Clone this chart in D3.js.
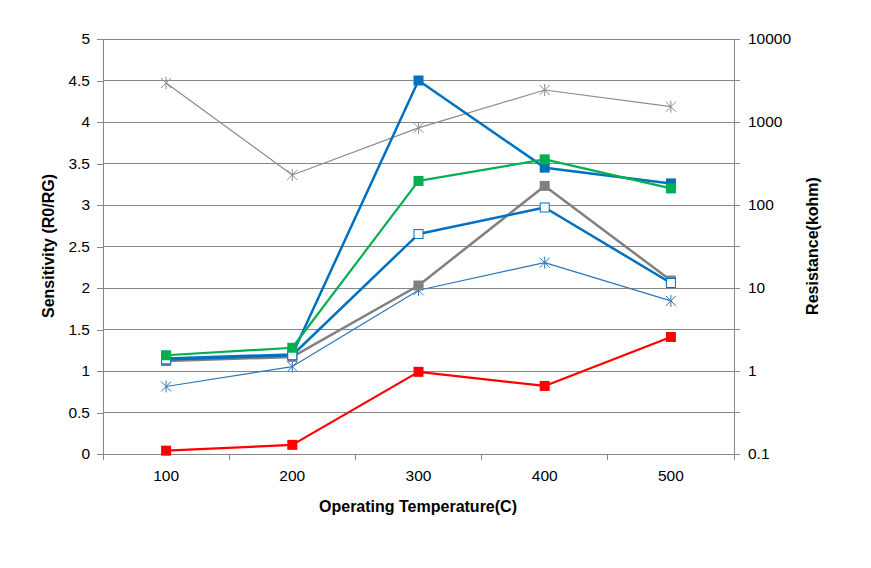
<!DOCTYPE html>
<html><head><meta charset="utf-8">
<script src="https://cdn.jsdelivr.net/npm/d3@7"></script>
<style>body{margin:0;background:#fff}svg{display:block}text{font-family:"Liberation Sans",Arial,sans-serif;fill:#000}</style>
</head><body><svg id="c" width="871" height="568"></svg>
<script>
const categories = ["100","200","300","400","500"];
const leftTicks = [0,0.5,1,1.5,2,2.5,3,3.5,4,4.5,5];
const rightTicks = [0.1,1,10,100,1000,10000];
// sensitivity series (left axis)
const redSens      = [0.04, 0.11, 0.99, 0.82, 1.41];
const greySens     = [1.12, 1.17, 2.03, 3.23, 2.09];
const blueOpenSens = [1.14, 1.19, 2.65, 2.97, 2.06];
const blueSens     = [1.15, 1.20, 4.50, 3.45, 3.26];
const greenSens    = [1.19, 1.28, 3.29, 3.55, 3.20];
// resistance series (right axis, log)
const greyRes = [2950, 230, 850, 2430, 1530];
const blueRes = [0.65, 1.13, 9.4, 20.2, 7.0];

const svg = d3.select("#c");
const L=103,R=734,T=39,B=454;
const x = d3.scaleBand().domain(categories).range([L,R]);
const yL = d3.scaleLinear().domain([0,5]).range([B,T]);
const yR = d3.scaleLog().domain([0.1,10000]).range([B,T]);
const gridC="#868686";

svg.append("g").selectAll("line").data(leftTicks.slice(1)).join("line")
  .attr("x1",L).attr("x2",R).attr("y1",d=>yL(d)).attr("y2",d=>yL(d))
  .attr("stroke",gridC).attr("stroke-width",1).attr("shape-rendering","crispEdges");

const gl = svg.append("g").attr("transform",`translate(${L},0)`)
  .call(d3.axisLeft(yL).tickValues(leftTicks).tickFormat(d=>d).tickSizeOuter(0).tickSize(6).tickPadding(6));
const gr = svg.append("g").attr("transform",`translate(${R},0)`)
  .call(d3.axisRight(yR).tickValues(rightTicks).tickFormat(d=>d).tickSizeOuter(0).tickSize(6).tickPadding(8));
gr.append("g").selectAll("line").data(rightTicks.slice(0,-1)).join("line")
  .attr("x1",0).attr("x2",6).attr("y1",d=>yR(d*Math.sqrt(10))).attr("y2",d=>yR(d*Math.sqrt(10)))
  .attr("stroke",gridC).attr("shape-rendering","crispEdges");
const gb = svg.append("g").attr("transform",`translate(0,${B})`)
  .call(d3.axisBottom(x).tickSize(0).tickPadding(16));
gb.append("g").selectAll("line").data(d3.range(0,categories.length+1)).join("line")
  .attr("x1",i=>L+i*x.step()).attr("x2",i=>L+i*x.step()).attr("y1",0).attr("y2",6)
  .attr("stroke",gridC).attr("shape-rendering","crispEdges");

[gl,gr,gb].forEach(g=>{
  g.selectAll(".domain").attr("stroke",gridC).attr("shape-rendering","crispEdges");
  g.selectAll(".tick line").attr("stroke",gridC).attr("shape-rendering","crispEdges");
  g.selectAll("text").attr("font-size",15.5).attr("fill","#000").attr("font-family","Liberation Sans, Arial, sans-serif");
});
gl.selectAll("text").attr("dx",-1);

svg.append("text").attr("x",418).attr("y",512).attr("text-anchor","middle")
  .attr("font-size",16).attr("font-weight","bold").text("Operating Temperature(C)");
svg.append("text").attr("transform","translate(54,246) rotate(-90)").attr("text-anchor","middle")
  .attr("font-size",16).attr("font-weight","bold").text("Sensitivity (R0/RG)");
svg.append("text").attr("transform","translate(818,246) rotate(-90)").attr("text-anchor","middle")
  .attr("font-size",16).attr("font-weight","bold").text("Resistance(kohm)");

const cx = c => x(c)+x.bandwidth()/2;
function series(vals, scale, color, width, marker){
  const pts = vals.map((v,i)=>[cx(categories[i]), scale(v)]);
  const g = svg.append("g");
  g.append("path").attr("d", d3.line()(pts)).attr("fill","none")
    .attr("stroke",color).attr("stroke-width",width).attr("stroke-linejoin","round");
  pts.forEach(p=>{
    if(marker==="square"){
      g.append("rect").attr("x",p[0]-5).attr("y",p[1]-5).attr("width",10).attr("height",10).attr("fill",color);
    } else if(marker==="open"){
      g.append("rect").attr("x",p[0]-4.5).attr("y",p[1]-4.5).attr("width",9).attr("height",9)
        .attr("fill","#fff").attr("stroke",color).attr("stroke-width",1);
    } else {
      const s=5;
      g.append("path").attr("d",`M${p[0]-s},${p[1]-s}L${p[0]+s},${p[1]+s}M${p[0]-s},${p[1]+s}L${p[0]+s},${p[1]-s}M${p[0]},${p[1]-s-1}L${p[0]},${p[1]+s+1}`)
        .attr("stroke",color).attr("stroke-width",1).attr("fill","none");
    }
  });
}
series(greyRes, yR, "#8c8c8c", 1.2, "star");
series(blueRes, yR, "#2e75b6", 1.2, "star");
series(redSens, yL, "#ff0000", 2.2, "square");
series(greySens, yL, "#808080", 2.5, "square");
series(blueSens, yL, "#0070c0", 2.5, "square");
series(blueOpenSens, yL, "#0070c0", 2.5, "open");
series(greenSens, yL, "#00b050", 2.2, "square");
</script></body></html>
